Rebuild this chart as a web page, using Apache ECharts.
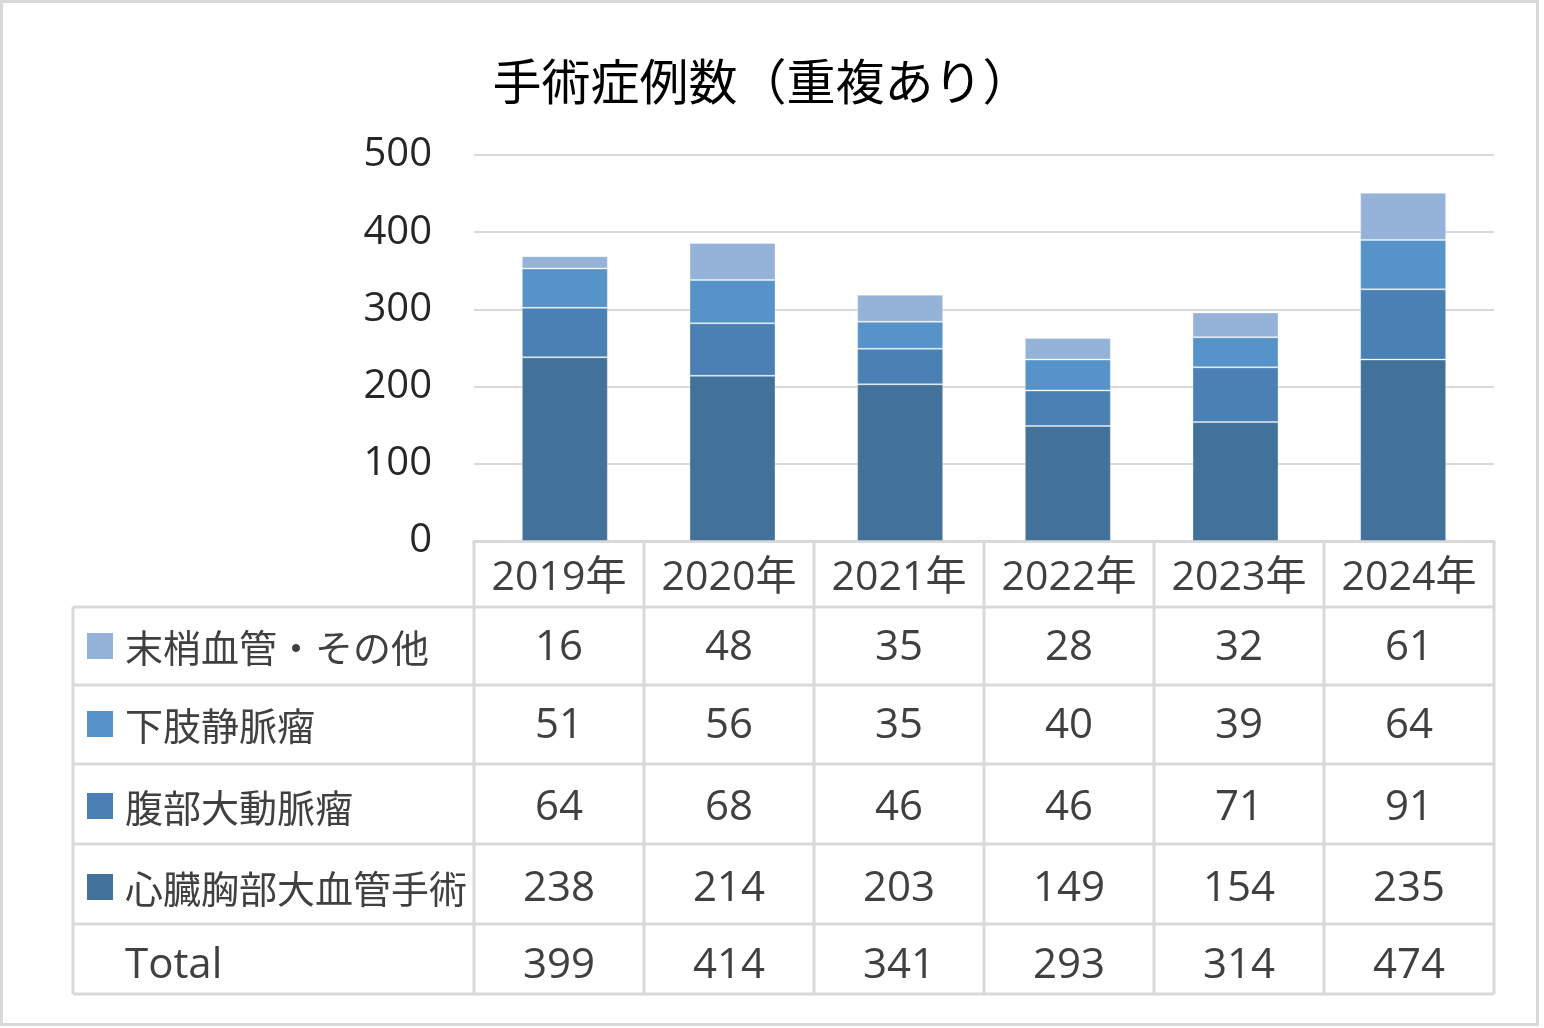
<!DOCTYPE html>
<html>
<head>
<meta charset="utf-8">
<script src="https://cdn.jsdelivr.net/npm/echarts@6/dist/echarts.min.js"></script>
<style>
html,body{margin:0;padding:0;background:#fff;}
#c{width:1544px;height:1028px;}
</style>
</head>
<body>
<div id="c"></div>
<script>
// ---- data ----
const titleText = '手術症例数（重複あり）';
const years = ['2019年', '2020年', '2021年', '2022年', '2023年', '2024年'];
const seriesNames = ['心臓胸部大血管手術', '腹部大動脈瘤', '下肢静脈瘤', '末梢血管・その他'];
const shinzo = [238, 214, 203, 149, 154, 235];
const fukubu = [64, 68, 46, 46, 71, 91];
const kashi = [51, 56, 35, 40, 39, 64];
const masho = [16, 48, 35, 28, 32, 61];
const totals = [399, 414, 341, 293, 314, 474];
const yMin = 0, yMax = 500, yInterval = 100;

// ---- styles ----
const colors = ['#42719A', '#4A80B3', '#5593C9', '#95B3D9'];
const FONT = "'Open Sans','Noto Sans CJK JP',sans-serif";
const CJK = "'Noto Sans CJK JP','Open Sans',sans-serif";
const gridColor = '#d9d9d9';
const textColor = '#404040';

const chart = echarts.init(document.getElementById('c'), null, {renderer: 'canvas'});

const plotTop = 155, plotH = 386;
const seriesData = [shinzo, fukubu, kashi, masho];

chart.setOption({
  animation: false,
  backgroundColor: '#fff',
  title: {
    text: titleText,
    left: 757,
    textAlign: 'center',
    top: 52,
    textStyle: {fontFamily: CJK, fontSize: 49, fontWeight: 'normal', color: '#000'}
  },
  grid: [
    {left: 474, width: 1020, top: plotTop, height: plotH},
    {left: 481, width: 1006, top: plotTop, height: plotH}
  ],
  xAxis: [
    {
      gridIndex: 0, type: 'category', data: years,
      axisLine: {lineStyle: {color: gridColor, width: 3}},
      axisTick: {show: false},
      axisLabel: {
        interval: 0,
        margin: 37, verticalAlign: 'middle',
        fontFamily: FONT, fontSize: 41, color: textColor
      }
    },
    {gridIndex: 1, type: 'category', data: years, show: false}
  ],
  yAxis: [
    {
      gridIndex: 0, type: 'value', min: yMin, max: yMax, interval: yInterval,
      axisLine: {show: false}, axisTick: {show: false},
      splitLine: {lineStyle: {color: gridColor, width: 2}},
      axisLabel: {margin: 42, fontFamily: FONT, fontSize: 40, color: '#262626', verticalAlign: 'middle',
        padding: [0, 0, 6, 0]}
    },
    {gridIndex: 1, type: 'value', min: yMin, max: yMax, interval: yInterval, show: false}
  ],
  series: seriesNames.map((n, i) => ({
    name: n, type: 'bar', stack: 'total',
    xAxisIndex: 1, yAxisIndex: 1,
    barWidth: 86,
    data: seriesData[i],
    itemStyle: {color: colors[i], borderColor: 'rgba(255,255,255,0.3)', borderWidth: 1}
  }))
});

// ---- data table built from x-axis positions ----
const centers = years.map(y => chart.convertToPixel({xAxisIndex: 0}, y));
const half = (centers[1] - centers[0]) / 2;
const colEdges = centers.map(c => c - half).concat([centers[centers.length - 1] + half]);
const tableLeft = 73;
const headerTop = plotTop + plotH;
const rowLines = [607, 685, 764, 844, 924, 994];
const rowTextY = [648, 726, 808, 889, 966];
const rows = [
  {name: seriesNames[3], vals: masho, color: colors[3]},
  {name: seriesNames[2], vals: kashi, color: colors[2]},
  {name: seriesNames[1], vals: fukubu, color: colors[1]},
  {name: seriesNames[0], vals: shinzo, color: colors[0]},
  {name: 'Total', vals: totals, color: null}
];

const g = [];
// outer frame
g.push({type: 'rect', shape: {x: 1.5, y: 1.5, width: 1536, height: 1023}, style: {fill: null, stroke: '#d9d9d9', lineWidth: 3}, silent: true});
// horizontal lines
rowLines.forEach(y => g.push({type: 'line', shape: {x1: tableLeft, y1: y, x2: colEdges[colEdges.length - 1], y2: y}, style: {stroke: gridColor, lineWidth: 3}, silent: true}));
// vertical lines
g.push({type: 'line', shape: {x1: tableLeft, y1: rowLines[0], x2: tableLeft, y2: rowLines[rowLines.length - 1]}, style: {stroke: gridColor, lineWidth: 3}, silent: true});
colEdges.forEach(x => g.push({type: 'line', shape: {x1: x, y1: headerTop, x2: x, y2: rowLines[rowLines.length - 1]}, style: {stroke: gridColor, lineWidth: 3}, silent: true}));
// rows
rows.forEach((r, ri) => {
  const cy = rowTextY[ri];
  if (r.color) {
    g.push({type: 'rect', shape: {x: 87, y: cy - 15, width: 26, height: 26}, style: {fill: r.color}, silent: true});
  }
  g.push({type: 'text', x: 125, y: cy, style: {text: r.name, font: (r.color ? '38px ' + CJK : '42px ' + FONT), fill: textColor, textAlign: 'left', textVerticalAlign: 'middle'}, silent: true});
  r.vals.forEach((v, ci) => {
    g.push({type: 'text', x: centers[ci], y: cy, style: {text: String(v), font: '42px ' + FONT, fill: textColor, textAlign: 'center', textVerticalAlign: 'middle'}, silent: true});
  });
});
chart.setOption({graphic: g});
</script>
</body>
</html>
